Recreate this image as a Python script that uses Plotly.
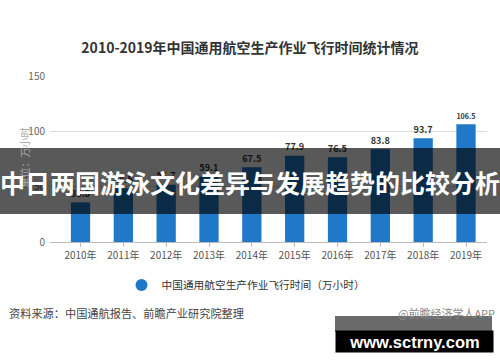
import plotly.graph_objects as go

years = ["2010年", "2011年", "2012年", "2013年", "2014年", "2015年", "2016年", "2017年", "2018年", "2019年"]
hours = [35.8, 48.5, 51.7, 59.1, 67.5, 77.9, 76.5, 83.8, 93.7, 106.5]
series_name = "中国通用航空生产作业飞行时间（万小时）"
title_text = "2010-2019年中国通用航空生产作业飞行时间统计情况"
banner_text = "中日两国游泳文化差异与发展趋势的比较分析"
source_text = "资料来源：中国通航报告、前瞻产业研究院整理"
credit_text = "@前瞻经济学人APP"
site_text = "www.sctrny.com"
yaxis_unit = "单位：万小时"

FONT = "Noto Sans CJK SC"
BLUE = "#1f78c8"

def px_x(p):
    return (p - 50) / 437

def px_y(p):
    return (242 - p) / 166

fig = go.Figure()
fig.add_trace(go.Bar(
    x=list(range(len(years))), y=hours, width=0.45,
    marker=dict(color=BLUE, line=dict(width=0)),
    text=[f"<b>{v}</b>" for v in hours], textposition="outside",
    textfont=dict(family=FONT, size=11.5, color="#333"),
    cliponaxis=False, showlegend=False,
))
fig.add_trace(go.Scatter(
    x=[None], y=[None], mode="markers", name=series_name,
    marker=dict(color=BLUE, size=11, symbol="circle"),
))

fig.update_layout(
    width=500, height=362,
    margin=dict(l=50, r=13, t=76, b=120),
    paper_bgcolor="white", plot_bgcolor="white",
    font=dict(family=FONT, color="#555"),
    title=dict(text=f"<b>{title_text}</b>", x=0.5, xanchor="center",
               y=1 - 48 / 362, yanchor="middle",
               font=dict(family=FONT, size=14, color="#333")),
    xaxis=dict(range=[-0.712, 9.49], tickmode="array",
               tickvals=list(range(len(years))), ticktext=years,
               showline=True, linecolor="#bbb", linewidth=1,
               ticks="outside", ticklen=4, tickcolor="#bbb",
               tickfont=dict(size=10, color="#555"), showgrid=False,
               zeroline=False),
    yaxis=dict(range=[0, 150], tickvals=[0, 50, 100, 150],
               showgrid=True, gridcolor="#ddd", zeroline=False,
               tickfont=dict(size=10, color="#666"), ticklabelstandoff=4),
    legend=dict(orientation="h", x=px_x(246), xanchor="center", y=px_y(285),
                yanchor="middle", font=dict(family=FONT, size=10.7, color="#333"),
                itemsizing="constant", bgcolor="rgba(0,0,0,0)"),
    bargap=0.55,
)

# y-axis unit label (faint, rotated)
fig.add_annotation(text=yaxis_unit, xref="paper", yref="paper",
                   x=px_x(14), y=px_y(158), textangle=-90,
                   showarrow=False, font=dict(family=FONT, size=10, color="#aaa"))

# source + credit
fig.add_annotation(text=source_text, xref="paper", yref="paper",
                   x=px_x(7), xanchor="left", y=px_y(313),
                   yanchor="middle", showarrow=False,
                   font=dict(family=FONT, size=11.2, color="#444"))
fig.add_annotation(text=credit_text, xref="paper", yref="paper",
                   x=px_x(497), xanchor="right", y=px_y(313),
                   yanchor="middle", showarrow=False,
                   font=dict(family=FONT, size=11, color="#888"))

# overlay banner
fig.add_shape(type="rect", xref="paper", yref="paper",
              x0=-0.2, x1=1.1, y0=px_y(214), y1=px_y(148),
              fillcolor="rgba(0,0,0,0.65)", line=dict(width=0), layer="above")
fig.add_annotation(text=f"<b>{banner_text}</b>", xref="paper", yref="paper",
                   x=px_x(250), y=px_y(182), showarrow=False,
                   font=dict(family=FONT, size=25, color="white"))

# site box bottom right
fig.add_shape(type="rect", xref="paper", yref="paper",
              x0=px_x(335), x1=px_x(492), y0=px_y(332), y1=px_y(316),
              fillcolor="rgba(80,80,80,0.85)", line=dict(width=0), layer="above")
fig.add_annotation(text=f"<b>{site_text}</b>", xref="paper", yref="paper",
                   x=px_x(335), xanchor="left", y=px_y(353), yanchor="bottom",
                   showarrow=False, bgcolor="black", width=157, height=21,
                   borderpad=0, align="center", valign="middle",
                   font=dict(family="Liberation Sans", size=16.5, color="white"))

fig.write_html("out.html", config={"displayModeBar": False},
               post_script="document.body.style.margin='0';document.body.style.overflow='hidden';")
